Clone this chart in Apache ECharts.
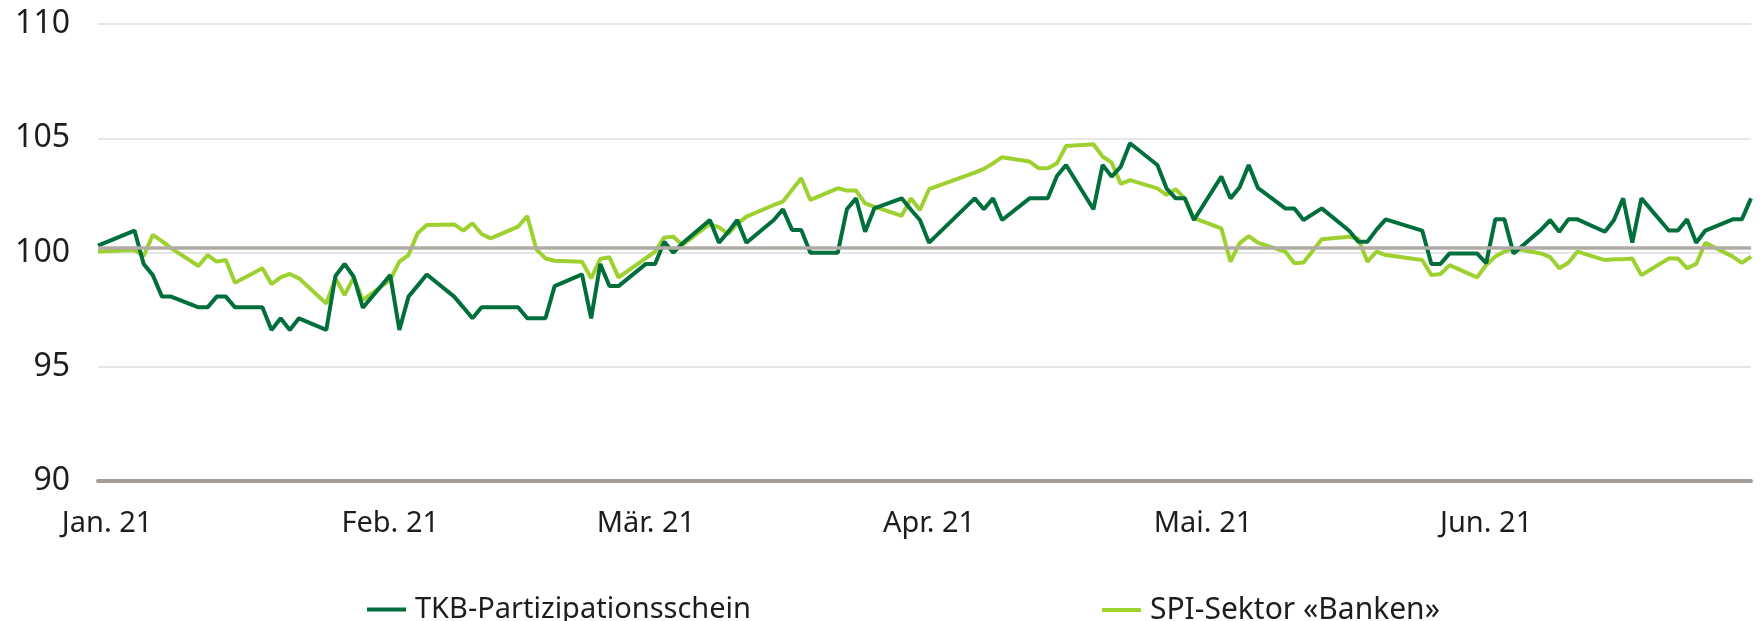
<!DOCTYPE html>
<html>
<head>
<meta charset="utf-8">
<title>TKB vs SPI Banken</title>
<style>
  html,body{margin:0;padding:0;background:#fff;}
  #chart{width:1764px;height:621px;}
</style>
</head>
<body>
<div id="chart"></div>
<script src="https://cdn.jsdelivr.net/npm/echarts@6.0.0/dist/echarts.min.js"></script>
<script>
// trading days, indexed values (start = 100)
var dates = [
  '2020-12-31','2021-01-04','2021-01-05','2021-01-06','2021-01-07','2021-01-08',
  '2021-01-11','2021-01-12','2021-01-13','2021-01-14','2021-01-15',
  '2021-01-18','2021-01-19','2021-01-20','2021-01-21','2021-01-22',
  '2021-01-25','2021-01-26','2021-01-27','2021-01-28','2021-01-29',
  '2021-02-01','2021-02-02','2021-02-03','2021-02-04','2021-02-05',
  '2021-02-08','2021-02-09','2021-02-10','2021-02-11','2021-02-12',
  '2021-02-15','2021-02-16','2021-02-17','2021-02-18','2021-02-19',
  '2021-02-22','2021-02-23','2021-02-24','2021-02-25','2021-02-26',
  '2021-03-01','2021-03-02','2021-03-03','2021-03-04','2021-03-05',
  '2021-03-08','2021-03-09','2021-03-10','2021-03-11','2021-03-12',
  '2021-03-15','2021-03-16','2021-03-17','2021-03-18','2021-03-19',
  '2021-03-22','2021-03-23','2021-03-24','2021-03-25','2021-03-26',
  '2021-03-29','2021-03-30','2021-03-31','2021-04-01',
  '2021-04-06','2021-04-07','2021-04-08','2021-04-09',
  '2021-04-12','2021-04-13','2021-04-14','2021-04-15','2021-04-16',
  '2021-04-19','2021-04-20','2021-04-21','2021-04-22','2021-04-23',
  '2021-04-26','2021-04-27','2021-04-28','2021-04-29','2021-04-30',
  '2021-05-03','2021-05-04','2021-05-05','2021-05-06','2021-05-07',
  '2021-05-10','2021-05-11','2021-05-12','2021-05-14',
  '2021-05-17','2021-05-18','2021-05-19','2021-05-20','2021-05-21',
  '2021-05-25','2021-05-26','2021-05-27','2021-05-28',
  '2021-05-31','2021-06-01','2021-06-02','2021-06-03','2021-06-04',
  '2021-06-07','2021-06-08','2021-06-09','2021-06-10','2021-06-11',
  '2021-06-14','2021-06-15','2021-06-16','2021-06-17','2021-06-18',
  '2021-06-21','2021-06-22','2021-06-23','2021-06-24','2021-06-25',
  '2021-06-28','2021-06-29','2021-06-30'
];
var tkbValues = [
  100.3,100.96,99.5,99.01,98.07,98.07,
  97.6,97.6,98.07,98.07,97.6,
  97.6,96.61,97.12,96.61,97.12,
  96.61,98.97,99.5,98.94,97.58,
  99.01,96.61,98.07,98.55,99.04,
  98.07,97.6,97.12,97.6,97.6,
  97.6,97.12,97.12,97.12,98.53,
  99.04,97.12,99.5,98.53,98.53,
  99.5,99.5,100.47,99.99,100.4,
  101.42,100.43,100.9,101.42,100.43,
  101.42,101.89,100.99,100.99,99.99,
  99.99,101.89,102.37,100.91,101.93,
  102.37,101.88,101.42,100.43,
  102.37,101.89,102.37,101.42,
  102.37,102.37,102.37,103.35,103.83,
  101.89,103.83,103.32,103.76,104.78,
  103.83,102.81,102.37,102.37,101.42,
  103.32,102.37,102.85,103.83,102.83,
  101.93,101.93,101.42,101.93,
  100.95,100.47,100.47,101.0,101.45,
  100.96,99.5,99.5,99.96,
  99.96,99.53,101.45,101.45,99.96,
  100.99,101.42,100.91,101.45,101.45,
  100.91,101.42,102.37,100.43,102.37,
  100.96,100.96,101.45,100.43,100.96,
  101.45,101.45,102.37
];
var spiValues = [
  100.04,100.11,99.85,100.77,100.5,100.19,
  99.41,99.89,99.6,99.67,98.68,
  99.31,98.62,98.91,99.06,98.87,
  97.77,98.87,98.14,98.9,97.92,
  98.8,99.6,99.89,100.84,101.2,
  101.23,100.96,101.28,100.81,100.62,
  101.13,101.6,100.14,99.74,99.64,
  99.6,98.87,99.72,99.79,98.91,
  99.75,100.04,100.66,100.69,100.33,
  101.25,101.1,100.81,101.25,101.57,
  102.08,102.23,102.74,103.25,102.3,
  102.81,102.71,102.71,102.15,102.01,
  101.6,102.37,101.86,102.77,
  103.5,103.66,103.9,104.17,
  103.98,103.69,103.69,103.9,104.66,
  104.74,104.2,103.93,103.0,103.17,
  102.81,102.52,102.77,102.37,101.5,
  101.06,99.6,100.4,100.72,100.43,
  100.04,99.53,99.56,100.58,
  100.69,100.6,99.6,100.04,99.89,
  99.67,99.01,99.06,99.45,
  98.91,99.45,99.82,100.04,100.18,
  99.96,99.8,99.31,99.55,100.04,
  99.67,99.7,99.71,99.74,99.01,
  99.74,99.74,99.31,99.5,100.43,
  99.82,99.55,99.82
];
var monthStarts = ['2021-01-01','2021-02-01','2021-03-01','2021-04-01','2021-05-01','2021-06-01'];
var monthLabels = ['Jan. 21','Feb. 21','Mär. 21','Apr. 21','Mai. 21','Jun. 21'];
var seriesNames = ['TKB-Partizipationsschein','SPI-Sektor «Banken»'];
var baseLine = 100.2;
var xRange = ['2020-12-31','2021-06-30'];

var fontFam = '"Noto Sans", sans-serif';
var chart = echarts.init(document.getElementById('chart'), null, {renderer:'canvas'});

function toTime(d){ return echarts.time.parse(d).getTime(); }
var monthTicks = monthStarts.map(toTime);

var option = {
  animation:false,
  backgroundColor:'#fff',
  grid:{left:98,right:13,top:24,bottom:140,containLabel:false,outerBoundsMode:'none'},
  legend:[
    {
      left:362, top:590,
      icon:'rect', itemWidth:39, itemHeight:4, itemGap:0,
      textStyle:{fontFamily:fontFam,fontSize:29,color:'#1d1d1b',padding:[0,0,0,4]},
      data:[seriesNames[0]]
    },
    {
      left:1097, top:590,
      icon:'rect', itemWidth:39, itemHeight:4, itemGap:0,
      textStyle:{fontFamily:fontFam,fontSize:30,color:'#1d1d1b',padding:[0,0,0,4]},
      data:[seriesNames[1]]
    }
  ],
  xAxis:{
    type:'value',
    min:toTime(xRange[0]),
    max:toTime(xRange[1]),
    axisLine:{show:true,onZero:false,lineStyle:{color:'#a39d98',width:4}},
    axisTick:{show:false},
    splitLine:{show:false},
    axisLabel:{
      customValues:monthTicks,
      margin:28,
      fontFamily:fontFam,
      fontSize:29,
      color:'#1d1d1b',
      formatter:function(val){
        var i = monthTicks.indexOf(val);
        return i >= 0 ? monthLabels[i] : '';
      }
    }
  },
  yAxis:{
    type:'value',
    min:90, max:110, interval:5,
    axisLine:{show:false},
    axisTick:{show:false},
    axisLabel:{margin:28,fontFamily:fontFam,fontSize:32,color:'#1d1d1b'},
    splitLine:{show:true,lineStyle:{color:'#e6e6e6',width:2}}
  },
  series:[
    {
      name:'ref',
      type:'line',
      data:[],
      z:1,
      markLine:{
        silent:true,
        symbol:'none',
        label:{show:false},
        lineStyle:{color:'#b1aba6',width:3.5,type:'solid'},
        data:[{yAxis:baseLine}]
      }
    },
    {
      name:seriesNames[1],
      type:'line',
      showSymbol:false,
      z:2,
      color:'#9dd12f',
      lineStyle:{width:4,color:'#9dd12f'},
      data:dates.map(function(d,i){ return [toTime(d), spiValues[i]]; })
    },
    {
      name:seriesNames[0],
      type:'line',
      showSymbol:false,
      z:3,
      color:'#006f3b',
      lineStyle:{width:4,color:'#006f3b'},
      data:dates.map(function(d,i){ return [toTime(d), tkbValues[i]]; })
    }
  ]
};
chart.setOption(option);
</script>
</body>
</html>
